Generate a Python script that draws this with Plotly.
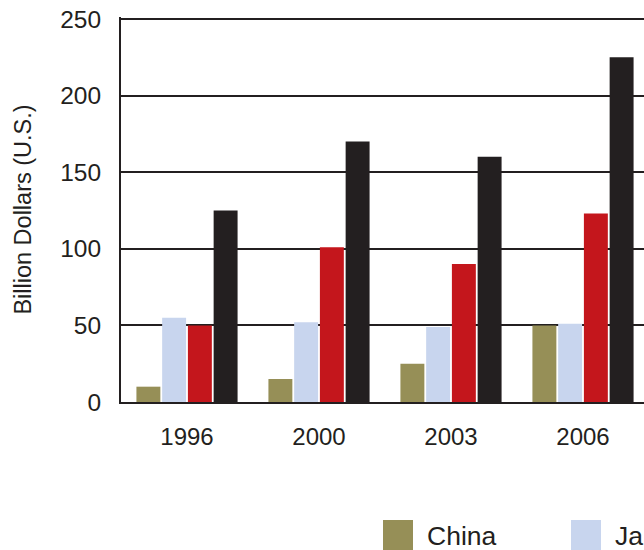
import plotly.graph_objects as go

# ---- data ----
years = ["1996", "2000", "2003", "2006"]
series_names = ["China", "Japan", "European Union", "United States"]
china = [10, 15, 25, 50]
japan = [55, 52, 49, 51]
eu = [50, 101, 90, 123]
us = [125, 170, 160, 225]
y_ticks = [0, 50, 100, 150, 200, 250]
y_title = "Billion Dollars (U.S.)"

colors = ["#968F57", "#C8D5EE", "#C4161C", "#231F20"]
ink = "#231F20"

W, H = 644, 550
L, R, T, B = 121, 0, 17, 148
plot_w = W - L - R
plot_h = H - T - B
band_px = 132  # pixel width of one category band in the original

fig = go.Figure()
for name, vals, col in zip(series_names, [china, japan, eu, us], colors):
    fig.add_trace(go.Bar(x=years, y=vals, name=name, marker=dict(color=col, line=dict(width=0)),
                         showlegend=False))

fig.update_layout(
    width=W, height=H,
    margin=dict(l=L, r=R, t=T, b=B, autoexpand=False),
    paper_bgcolor="white", plot_bgcolor="white",
    barmode="group", bargap=0.22, bargroupgap=0.07,
    font=dict(family="Liberation Sans, Arial, sans-serif", color=ink),
    showlegend=False,
)
fig.update_xaxes(
    type="category", range=[-0.5, -0.5 + plot_w / band_px],
    showline=True, linewidth=2, linecolor=ink, showgrid=False,
    ticks="", tickfont=dict(size=24, color=ink), ticklabelstandoff=12,
)
fig.update_yaxes(
    range=[0, 251.3], tickvals=y_ticks,
    showline=True, linewidth=2, linecolor=ink,
    showgrid=True, gridcolor=ink, gridwidth=1.5, zeroline=False,
    ticks="", tickfont=dict(size=24.5, color=ink), ticklabelstandoff=13,
    title=dict(text=y_title, font=dict(size=23.5, color=ink), standoff=22),
)

# ---- custom legend (large square swatches) ----
def px_to_paper_x(px):
    return (px - L) / plot_w

def px_to_paper_y(py):
    return (H - B - py) / plot_h

start_x, step, sq = 383, 188, 30
top_y = 520
for i, (name, col) in enumerate(zip(series_names, colors)):
    x0 = start_x + i * step
    fig.add_shape(type="rect", xref="paper", yref="paper",
                  x0=px_to_paper_x(x0), x1=px_to_paper_x(x0 + sq),
                  y0=px_to_paper_y(top_y), y1=px_to_paper_y(top_y + sq),
                  fillcolor=col, line=dict(width=0), layer="above")
    fig.add_annotation(text=name, xref="paper", yref="paper",
                       x=px_to_paper_x(x0 + 42), y=px_to_paper_y(top_y + 16),
                       xanchor="left", yanchor="middle", showarrow=False,
                       font=dict(size=26.5, color=ink))

fig.write_html("out.html")
